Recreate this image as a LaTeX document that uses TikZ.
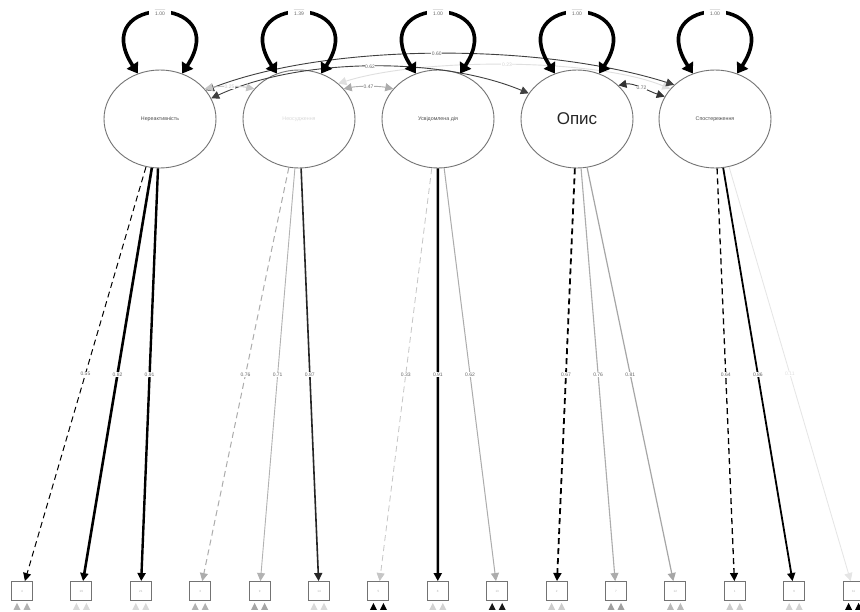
\documentclass[tikz,border=0pt]{standalone}
\usepackage{fontspec}
\setmainfont{Liberation Sans}
\usetikzlibrary{shapes.geometric,arrows.meta,calc}
\tikzset{
  lat/.style={ellipse, draw=black!55, line width=0.9pt, minimum width=112pt, minimum height=98pt, inner sep=0pt, font=\fontsize{5.3}{6}\selectfont, text=black!70},
  obs/.style={rectangle, draw=black!55, line width=0.9pt, minimum width=21pt, minimum height=19pt, inner sep=0pt, font=\fontsize{3}{3}\selectfont, text=gray!60},
  loadln/.style={-{Triangle[length=8pt,width=8pt]}},
  covln/.style={{Triangle[length=8pt,width=8pt]}-{Triangle[length=8pt,width=8pt]}, line width=0.9pt},
  varloop/.style={{Triangle[length=10pt,width=13pt]}-{Triangle[length=10pt,width=13pt]}, line width=3.6pt, black},
  lbl/.style={font=\fontsize{5}{6}\selectfont, text=black!60, fill=white, inner sep=0.6pt},
  looplab/.style={font=\fontsize{5}{6}\selectfont, text=black!60, fill=white, inner sep=0pt, minimum width=22pt, minimum height=7pt},
  dsh/.style={dash pattern=on 6pt off 4pt},
}
\begin{document}
\begin{tikzpicture}[x=1pt,y=-1pt]
\useasboundingbox (0,0) rectangle (860,612);
\clip (0,0) rectangle (860,612);
\fill[white] (0,0) rectangle (860,612);

% latent factors
\node[lat] (f1) at (160,119) {Нереактивність};
\node[lat, text=gray!30] (f2) at (299,119) {Неосудження};
\node[lat] (f3) at (438,119) {Усвідомлена дія};
\node[lat, font=\fontsize{17}{18}\selectfont, text=black!85] (f4) at (577,119) {Опис};
\node[lat] (f5) at (715,119) {Спостереження};

% observed items
\node[obs] (b1)  at (22,591)    {4};
\node[obs] (b2)  at (81.4,591)  {19};
\node[obs] (b3)  at (140.8,591) {21};
\node[obs] (b4)  at (200.2,591) {3};
\node[obs] (b5)  at (259.6,591) {9};
\node[obs] (b6)  at (319,591)   {14};
\node[obs] (b7)  at (378.4,591) {5};
\node[obs] (b8)  at (437.8,591) {8};
\node[obs] (b9)  at (497.2,591) {13};
\node[obs] (b10) at (556.6,591) {2};
\node[obs] (b11) at (616,591)   {7};
\node[obs] (b12) at (675.4,591) {12};
\node[obs] (b13) at (734.8,591) {1};
\node[obs] (b14) at (794.2,591) {6};
\node[obs] (b15) at (853.6,591) {11};

% residual arrowheads under the items
\foreach \i/\c in {1/gray!60,2/gray!30,3/gray!30,4/gray!60,5/gray!70,6/gray!30,7/black,8/gray!35,9/black!90,10/gray!40,11/gray!75,12/gray!55,13/gray!40,14/gray!35,15/black}{
  \fill[\c] ($(b\i.south)+(-8.5,9)$) -- ++(3.5,-7) -- ++(3.5,7) -- cycle;
  \fill[\c] ($(b\i.south)+(1.5,9)$) -- ++(3.5,-7) -- ++(3.5,7) -- cycle;
}

% loadings
\draw[loadln, dsh, black, line width=1pt]     (f1) -- node[lbl]{0.55} (b1);
\draw[loadln, black, line width=2.6pt]        (f1) -- node[lbl]{0.82} (b2);
\draw[loadln, black, line width=2.4pt]        (f1) -- node[lbl]{0.91} (b3);
\draw[loadln, dsh, gray!65, line width=1pt]   (f2) -- node[lbl]{0.76} (b4);
\draw[loadln, gray!60, line width=0.9pt]      (f2) -- node[lbl]{0.71} (b5);
\draw[loadln, black!85, line width=1.6pt]     (f2) -- node[lbl]{0.87} (b6);
\draw[loadln, dsh, gray!45, line width=0.8pt] (f3) -- node[lbl]{0.33} (b7);
\draw[loadln, black, line width=2.5pt]        (f3) -- node[lbl]{0.91} (b8);
\draw[loadln, gray!65, line width=1pt]        (f3) -- node[lbl]{0.62} (b9);
\draw[loadln, dsh, black, line width=1.8pt]   (f4) -- node[lbl]{0.67} (b10);
\draw[loadln, gray!65, line width=1.1pt]      (f4) -- node[lbl]{0.76} (b11);
\draw[loadln, gray!70, line width=1.2pt]      (f4) -- node[lbl]{0.81} (b12);
\draw[loadln, dsh, black, line width=1.3pt]   (f5) -- node[lbl]{0.64} (b13);
\draw[loadln, black, line width=1.8pt]        (f5) -- node[lbl]{0.86} (b14);
\draw[loadln, gray!20, line width=0.8pt]      (f5) -- node[lbl, text=gray!25]{0.11} (b15);

% covariances
\draw[covln, gray!25] (f2.42) .. controls +(82,-26) and +(-75,-31) .. (f5.146) node[midway, lbl, text=gray!35]{0.23};
\draw[covln, black!75] (f1.32) .. controls +(124,-48) and +(-133,-42) .. (f5.140) node[midway, lbl]{0.60};
\draw[covln, black!75] (f1.22) .. controls +(89,-41) and +(-89,-37) .. (f4.152) node[midway, lbl]{0.62};
\draw[covln, gray!45] (f1.34) .. controls +(15,-3) and +(-15,-3) .. (f2.146) node[midway, lbl, text=gray!45]{0.25};
\draw[covln, gray!65] (f2.34) .. controls +(15,-3) and +(-15,-3) .. (f3.146) node[midway, lbl]{0.47};
\draw[covln, black!80] (f4.39) .. controls +(15,-3) and +(-15,-5) .. (f5.156) node[midway, lbl]{0.72};

% variances
\draw[varloop] (f1.116) .. controls +(-52,-80) and +(52,-80) .. (f1.64) node[midway, looplab]{1.00};
\draw[varloop] (f2.116) .. controls +(-52,-80) and +(52,-80) .. (f2.64) node[midway, looplab]{1.39};
\draw[varloop] (f3.116) .. controls +(-52,-80) and +(52,-80) .. (f3.64) node[midway, looplab]{1.00};
\draw[varloop] (f4.116) .. controls +(-52,-80) and +(52,-80) .. (f4.64) node[midway, looplab]{1.00};
\draw[varloop] (f5.116) .. controls +(-52,-80) and +(52,-80) .. (f5.64) node[midway, looplab]{1.00};
\end{tikzpicture}
\end{document}
